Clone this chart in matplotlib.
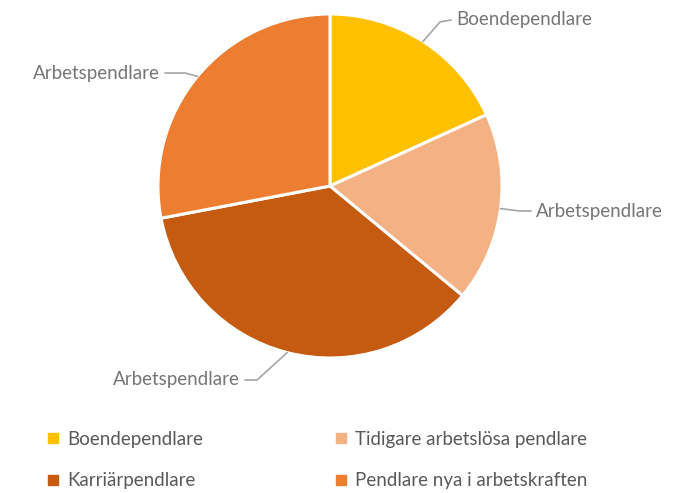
import numpy as np
import matplotlib
matplotlib.use("Agg")
import matplotlib.pyplot as plt
from matplotlib.lines import Line2D

plt.rcParams['font.family'] = ['Lato', 'DejaVu Sans']

categories = ["Boendependlare", "Tidigare arbetslösa pendlare",
              "Karriärpendlare", "Pendlare nya i arbetskraften"]
values = [18.2, 17.8, 36.0, 28.0]
data_labels = ["Boendependlare", "Arbetspendlare", "Arbetspendlare", "Arbetspendlare"]
colors = ["#FFC000", "#F4B183", "#C55A11", "#ED7D31"]

W, H = 685, 493
cx, cy, r = 330, 186, 172

fig = plt.figure(figsize=(W / 100, H / 100), dpi=100)
ax = fig.add_axes([0, 0, 1, 1])
wedges, _ = ax.pie(values, colors=colors, startangle=90, counterclock=False,
                   radius=1, wedgeprops=dict(edgecolor="white", linewidth=2.2))
ax.set_xlim(-cx / r, (W - cx) / r)
ax.set_ylim(-(H - cy) / r, cy / r)
ax.set_aspect("equal")
ax.axis("off")

# label text anchors (px) and leader elbows
text_pos = [(456, 20, "left"), (536, 211, "left"), (240, 380, "right"), (160, 73, "right")]
elbows = [(440, 22), (520, 211), (257, 380), (185, 73)]

def to_data(px, py):
    return (px - cx) / r, (cy - py) / r

for w, lab, (tx, ty, ha), (ex, ey) in zip(wedges, data_labels, text_pos, elbows):
    ang = np.deg2rad((w.theta1 + w.theta2) / 2)
    x0, y0 = np.cos(ang), np.sin(ang)
    x1, y1 = to_data(ex, ey)
    xt, yt = to_data(tx, ty)
    xe = xt - 0.03 if ha == "left" else xt + 0.03
    ax.plot([x0, x1, xe], [y0, y1, yt], color="#A6A6A6", lw=1.2)
    ax.text(xt, yt, lab, ha=ha, va="center", fontsize=13.5, color="#757575")

handles = [Line2D([], [], marker="s", linestyle="none", markersize=6.5,
                  markerfacecolor=c, markeredgecolor=c) for c in colors]
order = [0, 2, 1, 3]  # legend fills column-wise
leg = fig.legend([handles[i] for i in order], [categories[i] for i in order],
                 ncol=2, loc="upper left", bbox_to_anchor=(30 / W, 1 - 414 / H),
                 frameon=False, fontsize=13.5, labelcolor="#595959",
                 handlelength=0.7, handletextpad=0.4, columnspacing=7.0,
                 labelspacing=1.3)

fig.savefig("out.png", dpi=100)
